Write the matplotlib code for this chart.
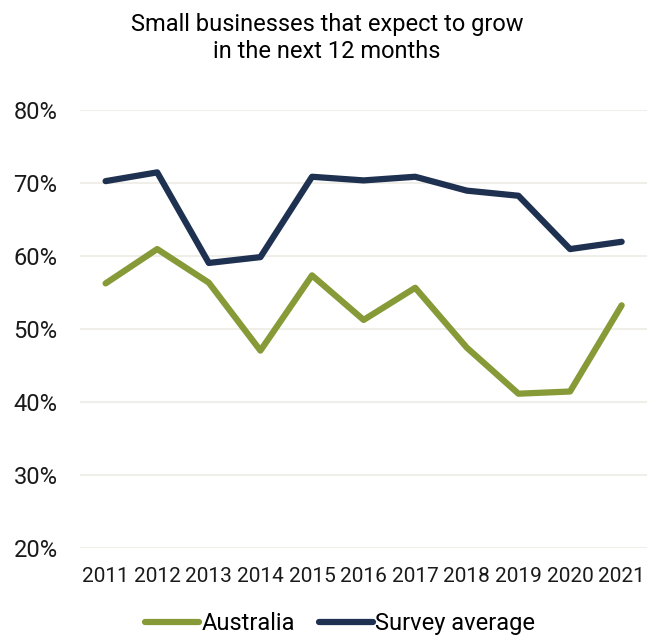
import matplotlib
matplotlib.use("Agg")
import matplotlib.pyplot as plt

years = ["2011", "2012", "2013", "2014", "2015", "2016", "2017", "2018", "2019", "2020", "2021"]
australia = [56.2, 60.9, 56.3, 47.0, 57.3, 51.2, 55.6, 47.4, 41.1, 41.4, 53.2]
survey_avg = [70.2, 71.4, 59.0, 59.8, 70.8, 70.3, 70.8, 68.9, 68.2, 60.9, 61.9]

plt.rcParams["font.family"] = ["Roboto", "DejaVu Sans"]

green = "#869a38"
navy = "#1f3150"

fig = plt.figure(figsize=(6.54, 6.37), dpi=100)
ax = fig.add_axes([0.122, 0.14, 0.868, 0.688])

x = range(len(years))
ax.plot(x, australia, color=green, lw=4.5, label="Australia", solid_capstyle="round")
ax.plot(x, survey_avg, color=navy, lw=4.5, label="Survey average", solid_capstyle="round")

ax.set_xlim(-0.5, len(years) - 0.5)
ax.set_ylim(20, 80)
ax.set_yticks(range(20, 81, 10))
ax.set_yticklabels([f"{v}%" for v in range(20, 81, 10)])
ax.set_xticks(list(x))
ax.set_xticklabels(years)
ax.grid(axis="y", color="#efeee9", lw=1.5)
ax.set_axisbelow(True)
for s in ax.spines.values():
    s.set_visible(False)
ax.tick_params(length=0, labelsize=15, colors="#1a1a1a")
ax.tick_params(axis="y", labelsize=17, pad=16)
ax.tick_params(axis="x", pad=14)

fig.suptitle("Small businesses that expect to grow\nin the next 12 months", x=0.5, y=0.979,
             fontsize=17, linespacing=1.2)

fig.legend(loc="lower center", bbox_to_anchor=(0.52, -0.03), ncol=2, frameon=False,
           fontsize=17, handlelength=2.3, handletextpad=0.1, columnspacing=1.0)

fig.savefig("out.png", dpi=100)
